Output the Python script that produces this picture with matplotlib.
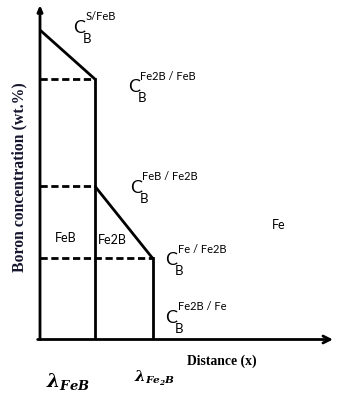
import matplotlib
matplotlib.use("Agg")
import matplotlib.pyplot as plt

# ---- data (arbitrary units) ----
layer_names = ["FeB", "Fe2B", "Fe"]
interface_x = [1.0, 2.05]              # lambda_FeB, lambda_Fe2B
conc_feb = [15.45, 13.0]               # C_B^{S/FeB}, C_B^{Fe2B/FeB}
conc_fe2b = [7.65, 4.05]               # C_B^{FeB/Fe2B}, C_B^{Fe/Fe2B}
conc_labels = ["S/FeB", "Fe2B / FeB", "FeB / Fe2B", "Fe / Fe2B", "Fe2B / Fe"]
x_label = "Distance (x)"
y_label = "Boron concentration (wt.%)"
xmax, ymax = 5.33, 16.7

W, H = 341, 397
fig = plt.figure(figsize=(W / 100, H / 100), dpi=100)
ax = fig.add_axes([40 / W, (H - 339.5) / H, 293 / W, 334.5 / H])
ax.set_xlim(0, xmax)
ax.set_ylim(0, ymax)
ax.axis("off")

lw = 2.0
dash = (0, (2.6, 1.3))
k = "black"

# concentration profiles
ax.plot([0, interface_x[0]], conc_feb, color=k, lw=lw, solid_capstyle="butt")
ax.plot([interface_x[0], interface_x[1]], conc_fe2b, color=k, lw=lw, solid_capstyle="butt")
# vertical interface lines
ax.plot([interface_x[0], interface_x[0]], [0, conc_feb[1]], color=k, lw=lw)
ax.plot([interface_x[1], interface_x[1]], [0, conc_fe2b[1]], color=k, lw=lw)
# dashed horizontal guides
ax.plot([0, interface_x[0]], [conc_feb[1]] * 2, color=k, lw=lw, ls=dash)
ax.plot([0, interface_x[0]], [conc_fe2b[0]] * 2, color=k, lw=lw, ls=dash)
ax.plot([0, interface_x[1]], [conc_fe2b[1]] * 2, color=k, lw=lw, ls=dash)

# axes with arrows
ax.annotate("", xy=(1.0, 0), xytext=(-0.008, 0), xycoords="axes fraction",
            arrowprops=dict(arrowstyle="->,head_length=0.5,head_width=0.25", lw=lw, color=k,
                            shrinkA=0, shrinkB=0))
ax.annotate("", xy=(0, 1.0), xytext=(0, 0), xycoords="axes fraction",
            arrowprops=dict(arrowstyle="-|>,head_length=0.35,head_width=0.15", lw=lw, color=k,
                            shrinkA=0, shrinkB=0))


def ftxt(x, y, s, **kw):
    return fig.text(x / W, 1 - y / H, s, **kw)


sans = "Lato"


def cb_label(xl, yb, sup):
    ftxt(xl, yb, "C", fontsize=13, family=sans, ha="left", va="baseline")
    ftxt(xl + 9.5, yb + 10, "B", fontsize=9.5, family=sans, ha="left", va="baseline")
    ftxt(xl + 12.5, yb - 12.5, sup, fontsize=8, family=sans, ha="left", va="baseline")


label_pos = [(73, 33), (128, 92), (130, 193), (165, 265), (165, 323)]
for (xl, yb), s in zip(label_pos, conc_labels):
    cb_label(xl, yb, s)

# region names
ftxt(66, 238, layer_names[0], fontsize=9, family=sans, ha="center", va="center")
ftxt(112, 240, layer_names[1], fontsize=9, family=sans, ha="center", va="center")
ftxt(279, 225, layer_names[2], fontsize=9, family=sans, ha="center", va="center")

# axis labels
ftxt(222, 361, x_label, fontsize=9.8, family="Liberation Serif", weight="bold",
     ha="center", va="center")
ftxt(19, 177, y_label, fontsize=11.3, family="Liberation Serif", weight="bold",
     rotation=90, ha="center", va="center", color="#15152e")

plt.rcParams["mathtext.fontset"] = "custom"
plt.rcParams["mathtext.rm"] = "DejaVu Serif:style=italic:weight=bold"
plt.rcParams["mathtext.it"] = "DejaVu Serif:style=italic:weight=bold"
plt.rcParams["mathtext.bf"] = "DejaVu Serif:style=italic:weight=bold"

ftxt(68, 381, r"$\lambda_{FeB}$", fontsize=13.5, ha="center", va="center")
ftxt(154, 378, r"$\lambda_{Fe_2B}$", fontsize=10.8, ha="center", va="center")

fig.savefig("out.png", dpi=100, facecolor="white")
